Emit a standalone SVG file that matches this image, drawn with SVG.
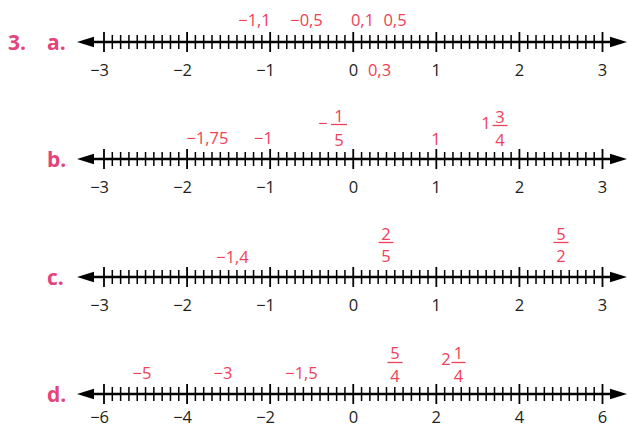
<svg xmlns="http://www.w3.org/2000/svg" xmlns:xlink="http://www.w3.org/1999/xlink" width="628" height="427" viewBox="0 0 628 427">
<style>
.axis{stroke:#000;fill:none}
.base{stroke-width:2.6}
.minor{stroke-width:1.5}
.major{stroke-width:1.8}
.head{fill:#000;stroke:none}
.num{font-family:"Open Sans","Noto Sans",sans-serif;font-size:16.5px;fill:#231f20;text-anchor:middle}
.neg{text-anchor:end}
.red{font-family:"Open Sans","Noto Sans",sans-serif;font-size:16.5px;fill:#ef4157;text-anchor:middle}
.bar{stroke:#ef4157;stroke-width:1.3}
.tag{font-family:"Open Sans","Noto Sans",sans-serif;font-size:21px;font-weight:bold;fill:#e3447c}
</style>
<defs>
<g id="axisline">
<path class="axis base" d="M88 0H614"/>
<polygon class="head" points="77,0 94,-5.2 94,5.2"/>
<polygon class="head" points="627,0 610,-5.2 610,5.2"/>
<path class="axis minor" d="M112.31 -7V7M120.62 -7V7M128.92 -7V7M137.23 -7V7M145.54 -7V7M153.85 -7V7M162.16 -7V7M170.47 -7V7M178.77 -7V7M195.39 -7V7M203.70 -7V7M212.01 -7V7M220.32 -7V7M228.62 -7V7M236.93 -7V7M245.24 -7V7M253.55 -7V7M261.86 -7V7M278.47 -7V7M286.78 -7V7M295.09 -7V7M303.40 -7V7M311.71 -7V7M320.02 -7V7M328.32 -7V7M336.63 -7V7M344.94 -7V7M361.56 -7V7M369.87 -7V7M378.17 -7V7M386.48 -7V7M394.79 -7V7M403.10 -7V7M411.41 -7V7M419.72 -7V7M428.02 -7V7M444.64 -7V7M452.95 -7V7M461.26 -7V7M469.57 -7V7M477.87 -7V7M486.18 -7V7M494.49 -7V7M502.80 -7V7M511.11 -7V7M527.72 -7V7M536.03 -7V7M544.34 -7V7M552.65 -7V7M560.96 -7V7M569.27 -7V7M577.57 -7V7M585.88 -7V7M594.19 -7V7"/>
<path class="axis major" d="M104 -10V10M187.08 -10V10M270.17 -10V10M353.25 -10V10M436.33 -10V10M519.42 -10V10M602.5 -10V10"/>
</g>
</defs>
<text class="tag" x="8" y="50">3.</text>

<g id="line-a">
<text class="tag" x="47" y="50">a.</text>
<use xlink:href="#axisline" href="#axisline" transform="translate(0,42)"/>
<text class="num neg" x="109" y="76">−3</text>
<text class="num neg" x="192" y="76">−2</text>
<text class="num neg" x="275" y="76">−1</text>
<text class="num" x="353.5" y="76">0</text>
<text class="num" x="436.3" y="76">1</text>
<text class="num" x="519.4" y="76">2</text>
<text class="num" x="602.5" y="76">3</text>
<text class="red" x="254.5" y="26">−1,1</text>
<text class="red" x="306.5" y="26">−0,5</text>
<text class="red" x="362.5" y="26">0,1</text>
<text class="red" x="395" y="26">0,5</text>
<text class="red" x="379.5" y="76">0,3</text>
</g>

<g id="line-b">
<text class="tag" x="47" y="167">b.</text>
<use xlink:href="#axisline" href="#axisline" transform="translate(0,159)"/>
<text class="num neg" x="109" y="193">−3</text>
<text class="num neg" x="192" y="193">−2</text>
<text class="num neg" x="275" y="193">−1</text>
<text class="num" x="353.5" y="193">0</text>
<text class="num" x="436.3" y="193">1</text>
<text class="num" x="519.4" y="193">2</text>
<text class="num" x="602.5" y="193">3</text>
<text class="red" x="207.5" y="144">−1,75</text>
<text class="red" x="263.5" y="144">−1</text>
<text class="red" x="323" y="129">−</text>
<text class="red" x="339" y="122">1</text>
<path class="bar" d="M331 124.5H347"/>
<text class="red" x="339" y="146">5</text>
<text class="red" x="436" y="145">1</text>
<text class="red" x="486" y="129">1</text>
<text class="red" x="500" y="122.5">3</text>
<path class="bar" d="M492.5 125.5H507.5"/>
<text class="red" x="500" y="145.5">4</text>
</g>

<g id="line-c">
<text class="tag" x="47" y="285">c.</text>
<use xlink:href="#axisline" href="#axisline" transform="translate(0,277)"/>
<text class="num neg" x="109" y="311">−3</text>
<text class="num neg" x="192" y="311">−2</text>
<text class="num neg" x="275" y="311">−1</text>
<text class="num" x="353.5" y="311">0</text>
<text class="num" x="436.3" y="311">1</text>
<text class="num" x="519.4" y="311">2</text>
<text class="num" x="602.5" y="311">3</text>
<text class="red" x="232.5" y="263">−1,4</text>
<text class="red" x="386" y="239.5">2</text>
<path class="bar" d="M378.5 242.5H393.5"/>
<text class="red" x="386" y="262">5</text>
<text class="red" x="561" y="239.5">5</text>
<path class="bar" d="M553.5 242.5H568.5"/>
<text class="red" x="561" y="262">2</text>
</g>

<g id="line-d">
<text class="tag" x="47" y="402">d.</text>
<use xlink:href="#axisline" href="#axisline" transform="translate(0,394)"/>
<text class="num neg" x="109" y="423">−6</text>
<text class="num neg" x="192" y="423">−4</text>
<text class="num neg" x="275" y="423">−2</text>
<text class="num" x="353.5" y="423">0</text>
<text class="num" x="436.3" y="423">2</text>
<text class="num" x="519.4" y="423">4</text>
<text class="num" x="602.5" y="423">6</text>
<text class="red" x="142" y="379">−5</text>
<text class="red" x="223" y="379">−3</text>
<text class="red" x="301.5" y="379">−1,5</text>
<text class="red" x="395" y="359">5</text>
<path class="bar" d="M387.5 362.5H402.5"/>
<text class="red" x="395" y="381.5">4</text>
<text class="red" x="446" y="365">2</text>
<text class="red" x="458.5" y="359">1</text>
<path class="bar" d="M451.5 362.5H465.5"/>
<text class="red" x="458.5" y="381.5">4</text>
</g>
</svg>
